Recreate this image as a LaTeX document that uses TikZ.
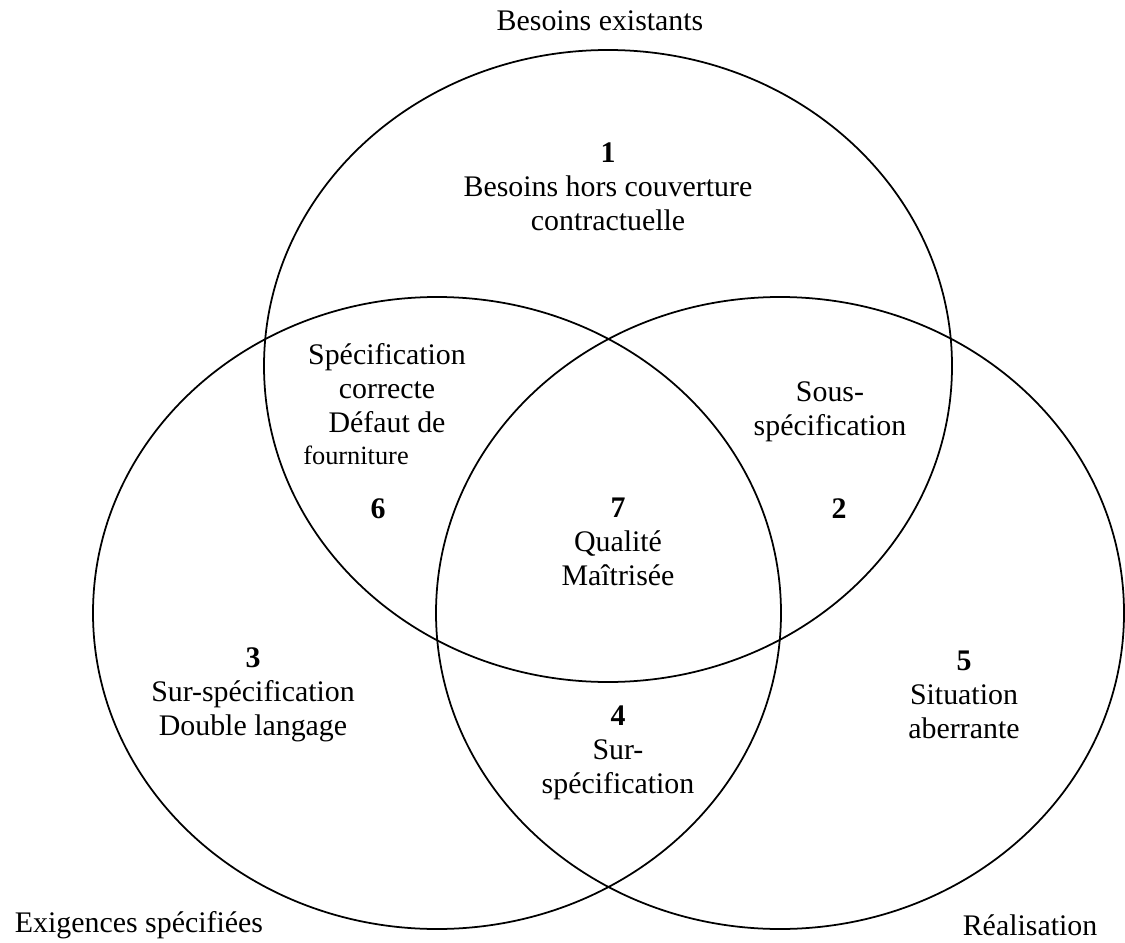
\documentclass[tikz,border=0pt]{standalone}
\usepackage{fontspec}
\setmainfont{Liberation Serif}
\usepackage{tikz}
\usetikzlibrary{positioning}

\tikzset{
	zone/.style={align=center, inner sep=0pt, font=\fontsize{17}{19.4}\selectfont},
	set/.style={draw=black, line width=1pt}
}

\begin{document}
\begin{tikzpicture}
	\useasboundingbox (0,0) rectangle (22.5,18.84);

	\coordinate (B) at (12.16,11.52);
	\coordinate (E) at (8.74,6.58);
	\coordinate (R) at (15.60,6.58);

	\draw[set] (B) ellipse [x radius=6.88, y radius=6.32];
	\draw[set] (E) ellipse [x radius=6.88, y radius=6.32];
	\draw[set] (R) ellipse [x radius=6.88, y radius=6.32];

	% names of the three sets
	\node[zone] (besoins) at (12.0,18.42) {Besoins existants};
	\node[zone] (exigences) at (2.78,0.34) {Exigences spécifiées};
	\node[zone] (realisation) at (20.60,0.34) {Réalisation};

	% the seven zones
	\node[zone] (z1) at (12.16,15.10) {\textbf{1}\\Besoins hors couverture\\contractuelle};
	\node[zone] (z6) at (7.74,11.08) {Spécification\\correcte\\Défaut de};
	\node[zone, font=\fontsize{15}{18}\selectfont] (z6b) at (7.12,9.74) {fourniture};
	\node[zone] (n6) at (7.56,8.66) {\textbf{6}};
	\node[zone] (z2) at (16.60,10.61) {Sous-\\spécification};
	\node[zone] (n2) at (16.78,8.66) {\textbf{2}};
	\node[zone] (z7) at (12.36,8.00) {\textbf{7}\\Qualité\\Maîtrisée};
	\node[zone] (z3) at (5.06,4.94) {\textbf{3}\\Sur-spécification\\Double langage};
	\node[zone] (z4) at (12.36,3.78) {\textbf{4}\\Sur-\\spécification};
	\node[zone] (z5) at (19.28,4.94) {\textbf{5}\\Situation\\aberrante};
\end{tikzpicture}
\end{document}
